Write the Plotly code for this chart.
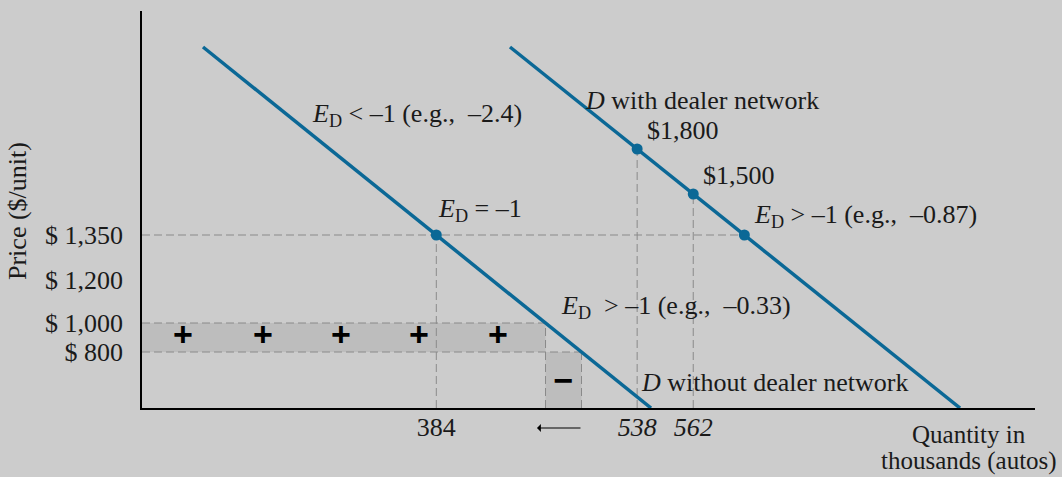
import plotly.graph_objects as go

# Schematic axes: each labelled level sits at its own position on the diagram
# (the figure is not drawn to scale), so ticks carry text labels.
price_labels = ["$ 800", "$ 1,000", "$ 1,200", "$ 1,350"]
price_pos = [56, 85, 128, 173]

dealer_prices = ["$1,800", "$1,500"]
dealer_price_pos = [259, 214]

qty_labels = ["384", "<i>538</i>", "<i>562</i>"]

# Demand curves, given by their end points (quantity position, price position)
without_q = [61, 509]
without_p = [361, 0]
with_q = [368, 818]
with_p = [361, 0]

plus_q = [41, 121, 199, 277, 356]

LINE = "#0b6896"
BG = "#cccccc"
SHADE = "#bdbdbd"
DASH = "#8a8a8a"
FONT = "Liberation Serif, Times New Roman, serif"
FS = 26
X_SPAN, Y_SPAN = 893, 397


def q_at(qs, ps, p):
    """Quantity position on a straight demand line at price position p."""
    return qs[0] + (qs[1] - qs[0]) * (p - ps[0]) / (ps[1] - ps[0])


p800, p1000, p1200, p1350 = price_pos
q384 = q_at(without_q, without_p, p1350)
q_at1000 = q_at(without_q, without_p, p1000)
q_at800 = q_at(without_q, without_p, p800)
q538 = q_at(with_q, with_p, dealer_price_pos[0])
q562 = q_at(with_q, with_p, dealer_price_pos[1])
q_with1350 = q_at(with_q, with_p, p1350)

fig = go.Figure()

# demand curves
for qs, ps in [(without_q, without_p), (with_q, with_p)]:
    fig.add_trace(go.Scatter(x=qs, y=ps, mode="lines",
                             line=dict(color=LINE, width=3.5),
                             cliponaxis=False, hoverinfo="skip"))

# highlighted points on the curves
fig.add_trace(go.Scatter(x=[q384, q538, q562, q_with1350],
                         y=[p1350, dealer_price_pos[0], dealer_price_pos[1], p1350],
                         mode="markers", marker=dict(color=LINE, size=11),
                         cliponaxis=False, hoverinfo="skip"))

# revenue gain (+) and loss (-) markers
SIGN_FONT = dict(family="Liberation Sans, Arial, sans-serif", size=34, color="black")
fig.add_trace(go.Scatter(x=plus_q, y=[(p800 + p1000) / 2] * len(plus_q),
                         mode="text", text=["<b>+</b>"] * len(plus_q),
                         textfont=SIGN_FONT, hoverinfo="skip"))
fig.add_trace(go.Scatter(x=[(q_at1000 + q_at800) / 2], y=[p800 / 2 - 3],
                         mode="text", text=["<b>\u2212</b>"],
                         textfont=SIGN_FONT, hoverinfo="skip"))

shapes = [
    dict(type="rect", x0=0, x1=q_at1000, y0=p800, y1=p1000,
         fillcolor=SHADE, line=dict(width=0), layer="below"),
    dict(type="rect", x0=q_at1000, x1=q_at800, y0=0, y1=p800,
         fillcolor=SHADE, line=dict(width=0), layer="below"),
]
dash = dict(color=DASH, width=1, dash="8px,4px")
for x0, x1, y in [(0, q_with1350, p1350), (0, q_at1000, p1000), (0, q_at800, p800)]:
    shapes.append(dict(type="line", x0=x0, x1=x1, y0=y, y1=y, line=dash, layer="below"))
for x, y1 in [(q384, p1350), (q_at1000, p1000), (q_at800, p800),
              (q538, dealer_price_pos[0]), (q562, dealer_price_pos[1])]:
    shapes.append(dict(type="line", x0=x, x1=x, y0=0, y1=y1, line=dash, layer="below"))

E = "<i>E</i><sub>D</sub>"
NB = "\u00a0"
labels = [
    (168, 293, f"{E} &lt; \u20131 (e.g.,{NB} \u20132.4)"),
    (294, 198, f"{E} = \u20131"),
    (441, 308, "<i>D</i> with dealer network"),
    (503, 278, dealer_prices[0]),
    (559, 233, dealer_prices[1]),
    (610, 192, f"{E} &gt; \u20131 (e.g.,{NB} \u20130.87)"),
    (417, 101, f"{E}{NB} &gt; \u20131 (e.g.,{NB} \u20130.33)"),
    (497, 26, "<i>D</i> without dealer network"),
]
annotations = [dict(x=x, y=y, text=t, showarrow=False, xanchor="left",
                    yanchor="middle", font=dict(family=FONT, size=FS, color="#1a1a1a"))
               for x, y, t in labels]

# axis titles (placed in paper units, outside the plotting area)
annotations.append(dict(xref="paper", yref="paper", x=-125 / X_SPAN, y=197 / Y_SPAN,
                        text="Price ($/unit)", textangle=-90,
                        showarrow=False, xanchor="center", yanchor="middle",
                        font=dict(family=FONT, size=FS, color="#1a1a1a")))
for line_text, y_off in [("Quantity in", -26), ("thousands (autos)", -53)]:
    annotations.append(dict(xref="paper", yref="paper", x=827 / X_SPAN, y=y_off / Y_SPAN,
                            text=line_text, showarrow=False, borderpad=0,
                            xanchor="center", yanchor="middle",
                            font=dict(family=FONT, size=25, color="#1a1a1a")))

# arrow showing the quantity falling
annotations.append(dict(xref="paper", yref="paper", x=395 / X_SPAN, y=-20 / Y_SPAN,
                        ax=45, ay=0, axref="pixel", ayref="pixel",
                        text="", showarrow=True, arrowhead=1, arrowsize=1.3,
                        arrowwidth=1, arrowcolor="black"))

fig.update_layout(
    width=1062, height=477,
    margin=dict(l=142, r=27, t=11, b=69),
    paper_bgcolor=BG, plot_bgcolor=BG,
    showlegend=False,
    shapes=shapes, annotations=annotations,
    font=dict(family=FONT, size=FS, color="#1a1a1a"),
)
fig.update_xaxes(range=[0, X_SPAN], showgrid=False, zeroline=False, showline=True,
                 linecolor="black", linewidth=1.5, ticks="",
                 tickvals=[q384, q538, q562], ticktext=qty_labels,
                 ticklabelstandoff=-5, tickfont=dict(family=FONT, size=FS))
fig.update_yaxes(range=[0, Y_SPAN], showgrid=False, zeroline=False, showline=True,
                 linecolor="black", linewidth=1.5, ticks="",
                 tickvals=price_pos, ticktext=price_labels,
                 ticklabelstandoff=12, tickfont=dict(family=FONT, size=FS))

fig.write_html("out.html")
